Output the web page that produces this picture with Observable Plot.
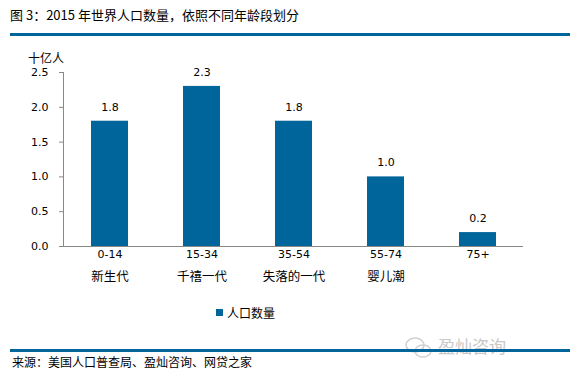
<!DOCTYPE html>
<html><head><meta charset="utf-8">
<script src="https://cdn.jsdelivr.net/npm/d3@7"></script>
<script src="https://cdn.jsdelivr.net/npm/@observablehq/plot@0.6"></script>
<style>
body{margin:0;background:#fff;font-family:"Noto Sans CJK SC","DejaVu Sans",sans-serif;}
#wrap{position:relative;width:580px;height:377px;overflow:hidden;}
.abs{position:absolute;white-space:nowrap;color:#000;}
#title{left:10px;top:5px;font-size:13px;}
.rule{position:absolute;left:10px;width:560px;height:3px;background:#00659a;}
#unit{left:28px;top:49px;font-size:12px;}
#legend{left:216px;top:304px;font-size:12px;display:flex;align-items:center;}
#legend span.sw{display:inline-block;width:7px;height:7px;background:#00659a;margin-right:4px;}
#source{left:12px;top:353px;font-size:12px;}
#wm{left:438px;top:333px;font-size:17px;color:#c8c8c8;}
#plot{position:absolute;left:0;top:0;}
</style></head>
<body><div id="wrap">
<div id="title" class="abs">图 3：2015 年世界人口数量，依照不同年龄段划分</div>
<div class="rule" style="top:33px"></div>
<div id="unit" class="abs">十亿人</div>
<div id="plot"></div>
<div id="legend" class="abs"><span class="sw"></span>人口数量</div>
<div id="wm" class="abs">盈灿咨询</div>
<svg class="abs" style="left:404px;top:336px" width="30" height="24"><g fill="none" stroke="#d0d0d0" stroke-width="1.5"><ellipse cx="11" cy="9" rx="9" ry="7"/><ellipse cx="19" cy="15" rx="8" ry="6"/></g></svg>
<div class="rule" style="top:349px"></div>
<div id="source" class="abs">来源：美国人口普查局、盈灿咨询、网贷之家</div>
</div>
<script>
const ages = ["0-14", "15-34", "35-54", "55-74", "75+"];
const generations = ["新生代", "千禧一代", "失落的一代", "婴儿潮", ""];
const population = [1.8, 2.3, 1.8, 1.0, 0.2];
const yTicks = [0, 0.5, 1.0, 1.5, 2.0, 2.5];

const data = ages.map((a, i) => ({age: a, gen: generations[i], value: population[i]}));
const genOf = Object.fromEntries(ages.map((a, i) => [a, generations[i]]));

const chart = Plot.plot({
  width: 580,
  height: 300,
  marginTop: 72,
  marginBottom: 54,
  marginLeft: 63,
  marginRight: 57,
  style: {fontFamily: "'DejaVu Sans', 'Noto Sans CJK SC', sans-serif", fontSize: "11px", color: "#000"},
  x: {domain: ages, paddingInner: 0.6, paddingOuter: 0.3, label: null},
  y: {domain: [0, 2.5], label: null},
  marks: [
    Plot.barY(data, {x: "age", y: "value", fill: "#00659a"}),
    Plot.text(data, {x: "age", y: "value", text: d => d.value.toFixed(1), dy: -14, fontSize: 11, fill: "#000"}),
    Plot.axisY({ticks: yTicks, tickFormat: d => d.toFixed(1), tickSize: 4, tickPadding: 11, stroke: "#888", fill: "#000", fontSize: 11}),
    Plot.frame({anchor: "left", stroke: "#888"}),
    Plot.axisX({tickSize: 0, tickPadding: 4, fill: "#000", fontSize: 11}),
    Plot.axisX({tickSize: 0, tickPadding: 26, tickFormat: a => genOf[a], fill: "#000", fontSize: 12.5, fontFamily: "'Noto Sans CJK SC', sans-serif"}),
    Plot.ruleY([0], {stroke: "#888"})
  ]
});
document.getElementById("plot").appendChild(chart);
</script>
</body></html>
